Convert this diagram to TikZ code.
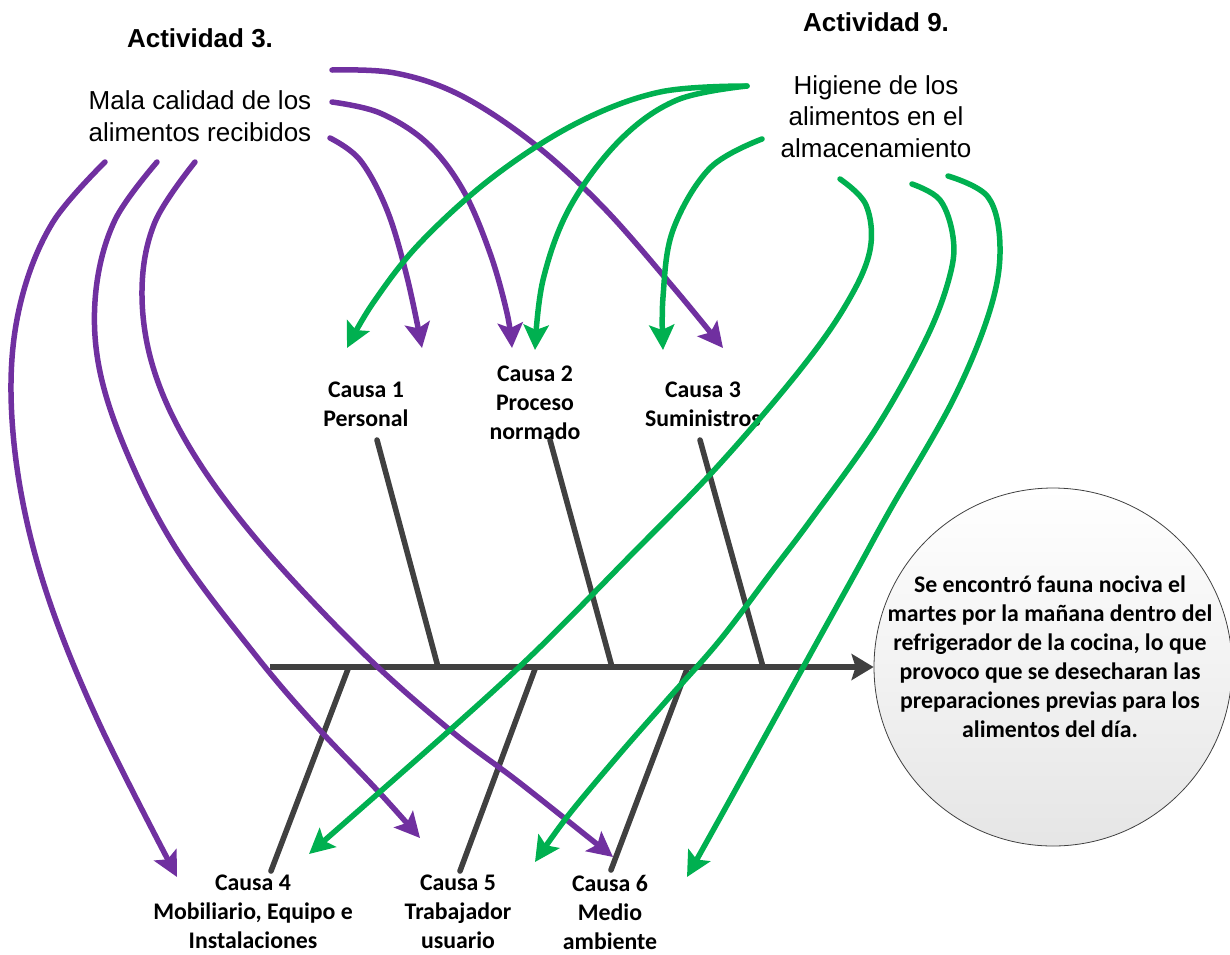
\documentclass[tikz,border=0pt]{standalone}
\usepackage{fontspec}
\setmainfont{Liberation Sans}
\newfontfamily\calib{Carlito}
\usetikzlibrary{arrows.meta}
\definecolor{violeta}{HTML}{7030A0}
\definecolor{verde}{HTML}{00B050}
\definecolor{espina}{HTML}{404040}

\begin{document}
\begin{tikzpicture}[x=1pt,y=-1pt,
  titulo/.style={font=\fontsize{26}{31.5}\selectfont\bfseries, inner sep=0pt},
  tema/.style={font=\fontsize{26}{31.5}\selectfont, align=center, inner sep=0pt},
  causa/.style={font=\calib\fontsize{23.8}{29}\selectfont\bfseries, align=center, inner sep=0pt,
    execute at begin node=\rule{0pt}{16pt}},
  hueso/.style={draw=espina, line width=5.5pt, line cap=round},
  sombra/.style={draw=black!12, line width=5.5pt, line cap=round},
  punta/.style={-{Stealth[length=25pt,width=25pt,inset=5pt]}},
  flechav/.style={draw=violeta, line width=5.5pt, line cap=round, line join=round, punta},
  flechag/.style={draw=verde, line width=5.5pt, line cap=round, line join=round, punta},
  efectobox/.style={circle, draw=black!75, line width=0.8pt, minimum size=358pt, inner sep=0pt,
    top color=white, bottom color=black!10}
]
\useasboundingbox (0,0) rectangle (1230,954);

% effect (head of the fish)
\node[efectobox] (efecto) at (1053,667) {};
\node[causa] (efectotxt) at (1050,656.5) {Se encontró fauna nociva el\\martes por la mañana dentro del\\refrigerador de la cocina, lo que\\provoco que se desecharan las\\preparaciones previas para los\\alimentos del día.};

% bone end points
\coordinate (s0) at (270,667);
\coordinate (u1a) at (377,440); \coordinate (u1b) at (438,667);
\coordinate (u2a) at (550,440); \coordinate (u2b) at (612,667);
\coordinate (u3a) at (700,440); \coordinate (u3b) at (763,667);
\coordinate (d4a) at (348,669); \coordinate (d4b) at (271,871);
\coordinate (d5a) at (535,669); \coordinate (d5b) at (460,871);
\coordinate (d6a) at (687,669); \coordinate (d6b) at (611,870);

% soft shadows of the bones
\begin{scope}[shift={(3,3)}]
  \foreach \a/\b in {u1a/u1b,u2a/u2b,u3a/u3b,d4a/d4b,d5a/d5b,d6a/d6b}
    \draw[sombra] (\a) -- (\b);
\end{scope}

% spine and bones
\draw[hueso, -{Stealth[length=22pt,width=26pt,inset=4pt]}, line cap=butt] (s0) -- (efecto.west |- s0);
\foreach \a/\b in {u1a/u1b,u2a/u2b,u3a/u3b,d4a/d4b,d5a/d5b,d6a/d6b}
  \draw[hueso] (\a) -- (\b);

% titles and topics
\node[titulo] (act3) at (200,38.5) {Actividad 3.};
\node[titulo] (act9) at (876,22.5) {Actividad 9.};
\node[tema, font=\fontsize{26}{32}\selectfont] (mala) at (200,116.5) {Mala calidad de los\\alimentos recibidos};
\node[tema] (higiene) at (876,116.5) {Higiene de los\\alimentos en el\\almacenamiento};

% causes
\node[causa] (c1) at (366,404.5) {Causa 1\\Personal};
\node[causa] (c2) at (535,403) {Causa 2\\Proceso\\normado};
\node[causa] (c3) at (703,404.5) {Causa 3\\Suministros};
\node[causa] (c4) at (253,912) {Causa 4\\Mobiliario, Equipo e\\Instalaciones};
\node[causa] (c5) at (458,912) {Causa 5\\Trabajador\\usuario};
\node[causa] (c6) at (610,912) {Causa 6\\Medio\\ambiente};

% connector ends
\coordinate (m1) at (332,70);  \coordinate (m2) at (332,102); \coordinate (m3) at (330,138);
\coordinate (m4) at (105,162); \coordinate (m5) at (157,162); \coordinate (m6) at (195,162);
\coordinate (h1) at (747,86);  \coordinate (h3) at (762,139);
\coordinate (h4) at (840,179); \coordinate (h5) at (912,184); \coordinate (h6) at (948,176);
\coordinate (c1m) at (422,348); \coordinate (c1h) at (347,348);
\coordinate (c2m) at (512,348); \coordinate (c2h) at (535,350);
\coordinate (c3m) at (723,348); \coordinate (c3h) at (663,350);
\coordinate (c4m) at (177,877); \coordinate (c4h) at (309,854);
\coordinate (c5m) at (420,838); \coordinate (c5h) at (535,862);
\coordinate (c6m) at (613,857); \coordinate (c6h) at (687,877);

% links from "Mala calidad de los alimentos recibidos"
\draw[flechav] plot[smooth, tension=0.6] coordinates {(m1) (395,73) (460,95) (533,143) (603,207) (673,287) (c3m)};
\draw[flechav] plot[smooth, tension=0.6] coordinates {(m2) (380,113) (427,143) (463,190) (490,253) (507,313) (c2m)};
\draw[flechav] plot[smooth, tension=0.6] coordinates {(m3) (360,160) (387,210) (407,277) (c1m)};
\draw[flechav] plot[smooth, tension=0.6] coordinates {(m4) (53,222) (22,297) (11,383) (20,487) (48,597) (99,723) (c4m)};
\draw[flechav] plot[smooth, tension=0.6] coordinates {(m5) (115,220) (96,290) (99,367) (127,453) (177,550) (257,657) (317,727) (377,790) (c5m)};
\draw[flechav] plot[smooth, tension=0.6] coordinates {(m6) (155,222) (142,290) (153,367) (190,448) (257,540) (360,650) (450,730) (520,783) (c6m)};

% links from "Higiene de los alimentos en el almacenamiento"
\draw[flechag] plot[smooth, tension=0.6] coordinates {(h1) (660,92) (577,123) (493,177) (420,243) (373,303) (c1h)};
\draw[flechag] plot[smooth, tension=0.6] coordinates {(h1) (677,100) (620,140) (570,207) (543,280) (c2h)};
\draw[flechag] plot[smooth, tension=0.6] coordinates {(h3) (710,168) (673,230) (663,297) (c3h)};
\draw[flechag] plot[smooth, tension=0.6] coordinates {(h4) (866,205) (870,250) (847,303) (800,370) (717,467) (633,553) (537,650) (450,730) (c4h)};
\draw[flechag] plot[smooth, tension=0.6] coordinates {(h5) (940,200) (953,237) (950,275) (927,337) (877,427) (813,517) (773,570) (720,640) (667,700) (617,757) (567,817) (c5h)};
\draw[flechag] plot[smooth, tension=0.6] coordinates {(h6) (988,197) (1000,247) (990,310) (953,400) (890,510) (857,570) (811,653) (726,807) (c6h)};
\end{tikzpicture}
\end{document}
